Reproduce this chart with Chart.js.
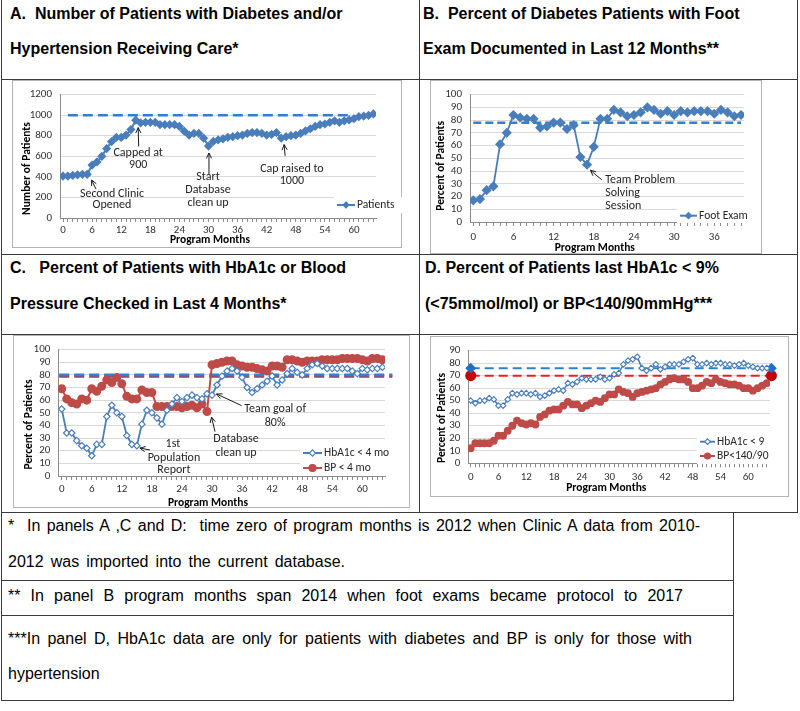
<!DOCTYPE html>
<html>
<head>
<meta charset="utf-8">
<script src="https://cdn.jsdelivr.net/npm/chart.js@4.4.1/dist/chart.umd.min.js"></script>
<style>
  body { margin: 0; background: #fff; }
  #page { position: relative; width: 800px; height: 711px; overflow: hidden; background: #fff;
          font-family: "Liberation Sans", Arial, sans-serif; color: #000; }
  .line { position: absolute; background: #3a3a3a; }
  .txt { position: absolute; white-space: pre; }
  .head { font-weight: bold; font-size: 16px; line-height: 16px; }
  .note { font-size: 16px; line-height: 16px; }
  .frame { position: absolute; box-sizing: border-box; border: 1px solid #b4b4b4; }
  canvas { position: absolute; }
</style>
</head>
<body>
<div id="page"></div>
<script>
Chart.defaults.font.family = "Carlito, Lato, sans-serif";
Chart.defaults.color = "#333333";

// ---- data ----
const programMonths = [0,1,2,3,4,5,6,7,8,9,10,11,12,13,14,15,16,17,18,19,20,21,22,23,24,25,26,27,28,29,30,31,32,
  33,34,35,36,37,38,39,40,41,42,43,44,45,46,47,48,49,50,51,52,53,54,55,56,57,58,59,60,61,62,63,64];
const footMonths = [0,1,2,3,4,5,6,7,8,9,10,11,12,13,14,15,16,17,18,19,20,21,22,23,24,25,26,27,28,29,30,
  31,32,33,34,35,36,37,38,39,40];
const monthLabels = [0, 6, 12, 18, 24, 30, 36, 42, 48, 54, 60];
const footLabels = [0, 6, 12, 18, 24, 30, 36];
const patientTicks = [0, 200, 400, 600, 800, 1000, 1200];
const percentTicks = [0, 10, 20, 30, 40, 50, 60, 70, 80, 90, 100];
const percentTicksD = [0, 10, 20, 30, 40, 50, 60, 70, 80, 90];

// A. patients receiving care
const patients = [408,408,414,420,425,425,515,545,600,675, 742,783,783,807,860,951,924,930,930,930,
  908,908,908,908,890,844,807,822,822,776, 700,745,760,770,785,791,800,807,822,831,
  831,822,807,813,831,776,791,800,807,822, 847,868,890,908,914,930,945,930,945,954, 966,985,991,997,1012];
// B. foot exam %
const footExam = [17,18,25,28,61,70,84,82,81,81, 74,75,78,78,73,76,51,45,59,81,
  81,88,86,83,84,86,90,88,85,87, 84,87,86,87,87,87,85,88,86,83, 84];
// C. checked in last 4 months
const hba1cChecked = [53,34,34,28,24,22,16,25,25,47, 56,50,47,32,25,24,41,52,50,46,
  41,52,57,62,59,62,64,62,61,65, 64,72,79,83,85,83,78,70,66,69,
  72,75,79,72,76,81,85,82,80,85, 88,89,87,85,85,85,85,85,83,81, 85,84,85,85,86];
const bpChecked = [69,61,58,57,61,60,69,67,71,76, 74,78,73,63,61,61,68,66,66,55,
  55,55,55,55,54,55,56,54,57,51, 88,89,90,91,91,88,87,86,86,85,
  84,83,87,87,86,92,92,91,90,91, 91,91,92,92,92,92,93,93,93,93, 92,91,93,93,92];
// D. controlled
const hba1cUnder9 = [50,48,50,50,52,51,46,46,51,56, 55,56,56,55,56,53,54,56,58,59,
  58,64,63,65,68,67,67,67,69,67, 68,71,72,79,82,83,85,76,74,76,
  79,75,77,79,79,79,81,83,84,79, 79,80,79,80,80,79,79,78,79,80, 78,77,76,76,76];
const bpUnder140 = [12,16,16,16,16,18,22,22,26,30, 34,32,31,32,31,37,39,42,43,43,
  46,49,47,47,44,46,48,50,49,52, 55,55,59,57,56,53,56,57,58,59,
  60,63,65,67,68,67,67,65,60,60, 62,65,64,67,65,64,63,63,62,60, 60,58,60,62,64];

// reference (goal) lines
const capLevel = 1000, capSpan = [1, 59];
const footGoal = 78, footGoalSpan = [0, 40];
const checkGoalHba1c = 80, checkGoalBp = 79, checkGoalSpan = [-0.5, 66];
const controlGoalHba1c = 76, controlGoalBp = 70, controlGoalSpan = [0, 65];

const BLUE = "#4a7ebb", RED = "#be4b48";
const GOAL_BLUE = "#2f7fd4", GOAL_RED = "#e0241f";
const AXIS = "#8c8c8c", GRID = "#d9d9d9";
const FONT = "Carlito, Lato, sans-serif";

const page = document.getElementById("page");

function addLine(x, y, w, h) {
  const d = document.createElement("div");
  d.className = "line";
  Object.assign(d.style, { left: x + "px", top: y + "px", width: w + "px", height: h + "px" });
  page.appendChild(d);
}

// right: optional right edge the line is spread to (justified footnote rows)
function addText(str, x, baseline, cls, size, right) {
  const d = document.createElement("div");
  d.className = "txt " + cls;
  d.textContent = str;
  d.style.left = x + "px";
  d.style.top = (baseline - 0.8465 * size) + "px";
  page.appendChild(d);
  if (right) {
    const spaces = (str.match(/ /g) || []).length;
    const extra = right - x - d.getBoundingClientRect().width;
    if (spaces && extra > 0) d.style.wordSpacing = (extra / spaces) + "px";
  }
}

// table grid
addLine(1, 0, 1, 700);
addLine(419, 0, 1, 512);
addLine(797, 0, 1, 512);
addLine(1, 79, 797, 1);
addLine(1, 254, 797, 1);
addLine(1, 334, 797, 1);
addLine(1, 512, 797, 1);
addLine(1, 580, 733, 1);
addLine(1, 615, 733, 1);
addLine(1, 700, 733, 1);
addLine(733, 512, 1, 189);

addText("A.  Number of Patients with Diabetes and/or", 10, 20, "head", 16);
addText("Hypertension Receiving Care*", 10, 55, "head", 16);
addText("B.  Percent of Diabetes Patients with Foot", 423, 20, "head", 16);
addText("Exam Documented in Last 12 Months**", 423, 55, "head", 16);
addText("C.   Percent of Patients with HbA1c or Blood", 10, 274, "head", 16);
addText("Pressure Checked in Last 4 Months*", 10, 310, "head", 16);
addText("D. Percent of Patients last HbA1c < 9%", 425, 274, "head", 16);
addText("(<75mmol/mol) or BP<140/90mmHg***", 425, 310, "head", 16);

addText("*  In panels A ,C and D:  time zero of program months is 2012 when Clinic A data from 2010-", 8, 532, "note", 16, 700);
addText("2012 was imported into the current database.", 8, 568, "note", 16, 345);
addText("** In panel B program months span 2014 when foot exams became protocol to 2017", 8, 602, "note", 16, 683);
addText("***In panel D, HbA1c data are only for patients with diabetes and BP is only for those with", 8, 645, "note", 16, 692);
addText("hypertension", 8, 680, "note", 16);

function drawArrow(ctx, x1, y1, x2, y2) {
  const ang = Math.atan2(y2 - y1, x2 - x1), h = 6;
  ctx.beginPath();
  ctx.moveTo(x1, y1);
  ctx.lineTo(x2, y2);
  ctx.moveTo(x2 - h * Math.cos(ang - 0.45), y2 - h * Math.sin(ang - 0.45));
  ctx.lineTo(x2, y2);
  ctx.lineTo(x2 - h * Math.cos(ang + 0.45), y2 - h * Math.sin(ang + 0.45));
  ctx.stroke();
}

function drawMarker(ctx, kind, x, y, r, color) {
  ctx.beginPath();
  if (kind === "circle") {
    ctx.arc(x, y, r, 0, Math.PI * 2);
  } else {
    ctx.moveTo(x, y - r); ctx.lineTo(x + r, y); ctx.lineTo(x, y + r); ctx.lineTo(x - r, y); ctx.closePath();
  }
  ctx.fillStyle = kind === "open" ? "#fff" : color;
  ctx.fill();
  ctx.strokeStyle = color;
  ctx.lineWidth = 1.2;
  ctx.stroke();
}

// annotations, axis titles and in-plot legend
const notesPlugin = {
  id: "notes",
  afterDatasetsDraw(chart, args, o) {
    const { ctx, scales: { x, y } } = chart;
    const px = (m) => x.getPixelForValue(m), py = (v) => y.getPixelForValue(v);
    ctx.save();
    ctx.fillStyle = "#000";
    ctx.textBaseline = "middle";
    ctx.textAlign = "center";
    ctx.font = "bold 11.5px " + FONT;
    ctx.fillText("Program Months", o.xTitle[0], o.xTitle[1]);
    ctx.save();
    ctx.translate(o.yTitle[0], o.yTitle[1]);
    ctx.rotate(-Math.PI / 2);
    ctx.fillText(o.yTitle[2], 0, 0);
    ctx.restore();

    ctx.font = "12px " + FONT;
    ctx.fillStyle = "#262626";
    for (const t of o.texts) {
      ctx.textAlign = t[3] || "center";
      ctx.fillText(t[0], px(t[1]), py(t[2]));
    }
    ctx.strokeStyle = "#1a1a1a";
    ctx.lineWidth = 1;
    for (const a of o.arrows) drawArrow(ctx, px(a[0]), py(a[1]), px(a[2]), py(a[3]));

    const L = o.legend;
    ctx.fillStyle = "#fff";
    ctx.fillRect(L.box[0], L.box[1], L.box[2], L.box[3]);
    ctx.font = "11.5px " + FONT;
    for (const e of L.items) {
      ctx.strokeStyle = e.color;
      ctx.lineWidth = 2;
      ctx.beginPath();
      ctx.moveTo(L.x0, e.y);
      ctx.lineTo(L.x1, e.y);
      ctx.stroke();
      drawMarker(ctx, e.marker, (L.x0 + L.x1) / 2, e.y, e.r, e.color);
      ctx.fillStyle = "#262626";
      ctx.textAlign = "left";
      ctx.fillText(e.label, L.tx, e.y);
    }
    ctx.restore();
  }
};

function series(months, values, color, extra) {
  return Object.assign({
    data: months.map((m, i) => ({ x: m, y: values[i] })),
    borderColor: color, backgroundColor: color,
    pointBackgroundColor: color, pointBorderColor: color,
    borderWidth: 1.8, tension: 0, order: 1
  }, extra);
}

function goalLine(span, level, color, extra) {
  return Object.assign({
    data: span.map((m) => ({ x: m, y: level })),
    borderColor: color, backgroundColor: color,
    borderWidth: 2.5, borderDash: [10, 5], pointRadius: 0,
    clip: false, order: 2
  }, extra);
}

function makeChart(cfg) {
  const [fl, ft, fr, fb] = cfg.frame;
  const [pl, pt, pr, pb] = cfg.plot;
  const box = document.createElement("div");
  box.className = "frame";
  Object.assign(box.style, { left: fl + "px", top: ft + "px", width: (fr - fl) + "px", height: (fb - ft) + "px" });
  page.appendChild(box);
  const cv = document.createElement("canvas");
  cv.width = fr - fl;
  cv.height = fb - ft;
  Object.assign(cv.style, { left: fl + "px", top: ft + "px", width: (fr - fl) + "px", height: (fb - ft) + "px" });
  page.appendChild(cv);

  return new Chart(cv.getContext("2d"), {
    type: "line",
    data: { datasets: cfg.datasets },
    options: {
      responsive: false,
      animation: false,
      events: [],
      layout: { padding: { left: 0, top: pt - ft, right: fr - pr, bottom: 0 } },
      plugins: { legend: { display: false }, tooltip: { enabled: false }, notes: cfg.notes },
      scales: {
        x: {
          type: "linear", min: cfg.xRange[0], max: cfg.xRange[1],
          afterBuildTicks: (s) => { s.ticks = cfg.months.map((v) => ({ value: v })); },
          afterFit: (s) => { s.height = fb - pb; },
          ticks: {
            autoSkip: false, maxRotation: 0, minRotation: 0, padding: cfg.tickPad,
            font: { size: 11 }, color: "#333",
            callback: (v) => (cfg.labels.includes(v) ? String(v) : "")
          },
          grid: { drawOnChartArea: false, drawTicks: true, tickLength: 4, color: AXIS },
          border: { display: true, color: AXIS }
        },
        y: {
          min: 0, max: cfg.yTicks[cfg.yTicks.length - 1],
          afterBuildTicks: (s) => { s.ticks = cfg.yTicks.map((v) => ({ value: v })); },
          afterFit: (s) => { s.width = pl - fl; },
          ticks: { autoSkip: false, padding: 8, font: { size: 11 }, color: "#333", callback: (v) => String(v) },
          grid: { color: GRID, drawTicks: false },
          border: { display: true, color: AXIS }
        }
      }
    },
    plugins: [notesPlugin]
  });
}

// Panel A
makeChart({
  frame: [12, 80, 402, 248], plot: [60, 87, 376, 218], xRange: [-0.62, 64.54],
  months: programMonths, labels: monthLabels, yTicks: patientTicks, tickPad: 2,
  datasets: [
    goalLine(capSpan, capLevel, GOAL_BLUE),
    series(programMonths, patients, BLUE, { pointStyle: "rectRot", pointRadius: 3.2, borderWidth: 2 })
  ],
  notes: {
    xTitle: [198, 160], yTitle: [14.7, 88.5, "Number of Patients"],
    texts: [["Second Clinic", 10.1, 238], ["Opened", 10.1, 128], ["Capped at", 15.5, 632], ["900", 15.5, 513],
            ["Start", 29.9, 394], ["Database", 29.9, 275], ["clean up", 29.9, 147],
            ["Cap raised to", 47.2, 476], ["1000", 47.2, 357]],
    arrows: [[6.8, 281, 5.9, 369], [15.6, 696, 15.5, 879], [30.1, 421, 30.1, 632], [45.8, 605, 45.6, 714]],
    legend: { box: [322, 117, 76, 16], x0: 325, x1: 343, tx: 345,
      items: [{ label: "Patients", y: 125, color: BLUE, marker: "diamond", r: 3 }] }
  }
});

// Panel B
makeChart({
  frame: [430, 80, 762, 254], plot: [470, 89, 744, 222], xRange: [-0.49, 40.44],
  months: footMonths, labels: footLabels, yTicks: percentTicks, tickPad: 5,
  datasets: [
    goalLine(footGoalSpan, footGoal, GOAL_BLUE, { borderDash: [8, 4] }),
    series(footMonths, footExam, BLUE, { pointStyle: "rectRot", pointRadius: 3.8 })
  ],
  notes: {
    xTitle: [164.8, 167.7], yTitle: [10.7, 85.8, "Percent of Patients"],
    texts: [["Team Problem", 19.7, 33.1, "left"], ["Solving", 19.7, 22.6, "left"], ["Session", 19.7, 12.8, "left"]],
    arrows: [[19.2, 33.1, 17.5, 40.6]],
    legend: { box: [247, 128, 82, 15], x0: 250, x1: 267, tx: 269,
      items: [{ label: "Foot Exam", y: 135.7, color: BLUE, marker: "diamond", r: 3 }] }
  }
});

// Panel C
makeChart({
  frame: [13, 335, 410, 508], plot: [58.3, 345, 385, 476], xRange: [-0.68, 64.53],
  months: programMonths, labels: monthLabels, yTicks: percentTicks, tickPad: 3,
  datasets: [
    goalLine(checkGoalSpan, checkGoalHba1c, GOAL_BLUE, { borderWidth: 3 }),
    goalLine(checkGoalSpan, checkGoalBp, GOAL_RED, { borderWidth: 3 }),
    series(programMonths, hba1cChecked, BLUE, { pointStyle: "rectRot", pointRadius: 3.2, pointBorderWidth: 1.2,
      pointBackgroundColor: "#fff" }),
    series(programMonths, bpChecked, RED, { pointStyle: "circle", pointRadius: 3.5, borderWidth: 2 })
  ],
  notes: {
    xTitle: [195, 168.5], yTitle: [16, 89.5, "Percent of Patients"],
    texts: [["1st", 22.2, 25.2], ["Population", 22.4, 14.5], ["Report", 22.4, 4.6],
            ["Database", 34.8, 29], ["clean up", 34.8, 18.3], ["Team goal of", 42.6, 52.7], ["80%", 42.6, 42]],
    arrows: [[17.6, 20.6, 15.6, 22.1], [30.6, 35.1, 29.9, 46.6], [35.9, 55.7, 30.9, 64.9]],
    legend: { box: [287, 110, 97, 31], x0: 290, x1: 309, tx: 311,
      items: [{ label: "HbA1c < 4 mo", y: 118, color: BLUE, marker: "open", r: 3.2 },
              { label: "BP < 4 mo", y: 133, color: RED, marker: "circle", r: 3.5 }] }
  }
});

// Panel D
makeChart({
  frame: [430, 336, 789, 497], plot: [468.3, 344.3, 770, 463.3], xRange: [-0.52, 64.69],
  months: programMonths, labels: monthLabels, yTicks: percentTicksD, tickPad: 3,
  datasets: [
    goalLine(controlGoalSpan, controlGoalHba1c, GOAL_BLUE, { borderWidth: 2, borderDash: [9, 5],
      pointStyle: "rectRot", pointRadius: 4, pointBackgroundColor: "#1f6fc8", pointBorderColor: "#1f6fc8" }),
    goalLine(controlGoalSpan, controlGoalBp, GOAL_RED, { borderWidth: 2, borderDash: [9, 5],
      pointStyle: "circle", pointRadius: 4.5, pointBackgroundColor: "#c40000", pointBorderColor: "#c40000" }),
    series(programMonths, hba1cUnder9, BLUE, { pointStyle: "rectRot", pointRadius: 2.8, pointBorderWidth: 1.1,
      pointBackgroundColor: "#fff", borderWidth: 1.5 }),
    series(programMonths, bpUnder140, RED, { pointStyle: "circle", pointRadius: 3, borderWidth: 1.8 })
  ],
  notes: {
    xTitle: [176.3, 151.7], yTitle: [11.7, 82, "Percent of Patients"],
    texts: [], arrows: [],
    legend: { box: [267, 98, 82, 30], x0: 270, x1: 285, tx: 287,
      items: [{ label: "HbA1c < 9", y: 105.7, color: BLUE, marker: "open", r: 2.8 },
              { label: "BP<140/90", y: 120, color: RED, marker: "circle", r: 3 }] }
  }
});
</script>
</body>
</html>
